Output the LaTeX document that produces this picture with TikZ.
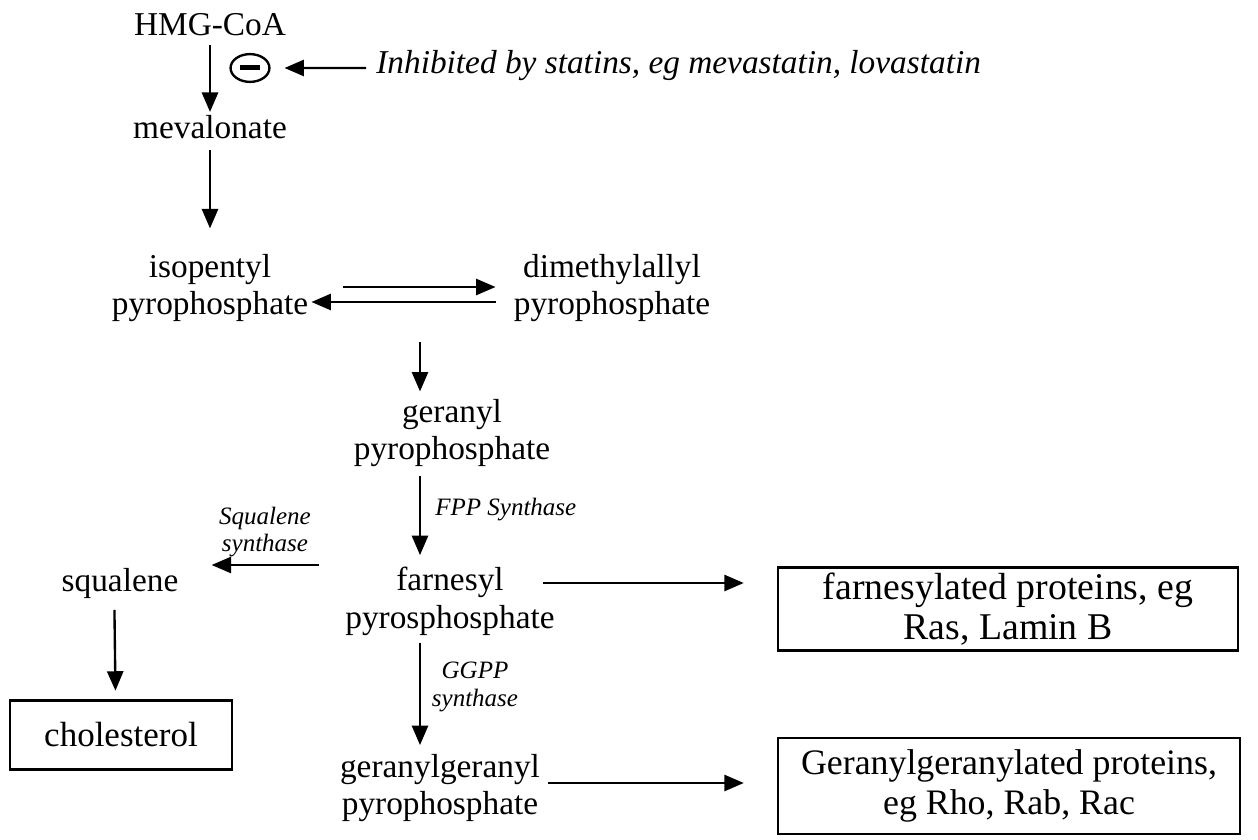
\documentclass[tikz,border=0pt]{standalone}
\usepackage{fontspec}
\setmainfont{Liberation Serif}
\usetikzlibrary{arrows.meta,shapes.geometric,calc}
\tikzset{
    metab/.style={align=center,font=\fontsize{12}{13.6}\selectfont,inner sep=1pt},
    enzyme/.style={align=center,font=\fontsize{9}{9.8}\selectfont\itshape,inner sep=1pt},
    product/.style={metab,draw,line width=0.9pt},
    react/.style={-{Triangle[length=7pt,width=5.8pt]},line width=0.85pt},
  }

\begin{document}
\begin{tikzpicture}[x=0.36pt,y=-0.36pt]
                  %units: one step = one pixel of the scan
                  \useasboundingbox (0,0) rectangle (1258,840);
                  \node[metab] (hmg) at (210,25) {HMG-CoA};
                  \node[metab] (mev) at (210,127) {mevalonate};
                  \node[metab] (ipp) at (210,288) {isopentyl\\pyrophosphate};
                  \node[metab] (dmapp) at (612,288) {dimethylallyl\\pyrophosphate};
                  \node[metab] (gpp) at (452,433) {geranyl\\pyrophosphate};
                  \node[metab] (fpp) at (450,601) {farnesyl\\pyrosphosphate};
                  \node[metab] (ggpp) at (440,788) {geranylgeranyl\\pyrophosphate};
                  \node[metab] (squal) at (120,583) {squalene};
                  \node[product,font=\fontsize{12.6}{14}\selectfont,minimum width=80pt,minimum height=25pt] (chol) at (121,735) {cholesterol};
                  \node[product,font=\fontsize{13.6}{14.6}\selectfont,minimum width=165.6pt,minimum height=30pt] (farnp) at (1008,609) {farnesylated proteins, eg\\Ras, Lamin B};
                  \node[product,font=\fontsize{12.9}{14.2}\selectfont,minimum width=166.3pt,minimum height=34.5pt] (ggp) at (1009,786) {Geranylgeranylated proteins,\\eg Rho, Rab, Rac};
                  %inhibition by statins
                  \node[draw,ellipse,line width=0.85pt,inner sep=0pt,minimum width=14pt,minimum height=10pt] (minus) at (250,68) {\rule[-0.9pt]{7pt}{1.8pt}};
                  \node[enzyme,font=\fontsize{12}{13.6}\selectfont\itshape,anchor=west] (statin) at (373,66) {Inhibited by statins, eg mevastatin, lovastatin};
                  \draw[react] ([xshift=-2.5pt,yshift=-0.7pt]statin.west) -- ([xshift=5pt]minus.east);
                  %enzymes
                  \node[enzyme,anchor=west] (fpps) at (432,510) {FPP Synthase};
                  \node[enzyme] (ggpps) at (475,687) {GGPP\\synthase};
                  \node[enzyme] (sqs) at (265,532) {Squalene\\synthase};
                  \coordinate (spine) at (420,342);
                  \draw[react] ([yshift=-2pt]hmg.south) -- (mev.north);
                  \draw[react] ([yshift=-3pt]mev.south) -- ([yshift=8pt]ipp.north);
                  \draw[react] ($(ipp.east)+(32,-1)$) -- ($(dmapp.west)+(-15,-1)$);
                  \draw[react] ($(dmapp.west)+(-15,14)$) -- ($(ipp.east)+(0,14)$);
                  \draw[react] (spine) -- ([yshift=1.5pt]gpp.north -| spine);
                  \draw[react] ([yshift=-2pt]gpp.south -| spine) -- ([yshift=3pt]fpp.north -| spine);
                  \draw[react] ([yshift=-1.5pt]fpp.south -| spine) -- ([yshift=2pt]ggpp.north -| spine);
                  \draw[react] ($(fpp.west)+(-23,-36)$) -- ($(squal.east)+(30,-18)$);
                  \draw[react] ([xshift=-2pt,yshift=-3pt]squal.south) -- ([xshift=-2pt,yshift=3pt]chol.north);
                  \draw[react] ($(fpp.east)+(-15,-18)$) -- ($(farnp.west)+(-33,-26)$);
                  \draw[react] ($(ggpp.east)+(5,-5)$) -- ($(ggp.west)+(-33,-3)$);
\end{tikzpicture}
\end{document}
